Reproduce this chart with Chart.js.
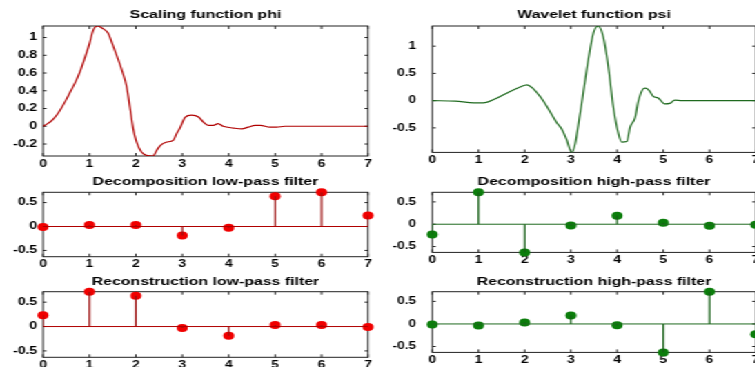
<!DOCTYPE html>
<html>
<head>
<meta charset="utf-8">
<script src="https://cdn.jsdelivr.net/npm/chart.js@4.4.1/dist/chart.umd.min.js"></script>
<style>
  html, body { margin: 0; padding: 0; overflow: hidden; background: #fff; }
  /* the reference figure is stretched sideways, so the whole figure is too */
  #fig { position: absolute; left: 0; top: 0; width: 580px; height: 367px; transform: scaleX(1.38); transform-origin: 0 0; }
  #fig canvas { position: absolute; }
</style>
</head>
<body>
<div id="fig">
  <canvas id="phi"></canvas>
  <canvas id="psi"></canvas>
  <canvas id="decLo"></canvas>
  <canvas id="decHi"></canvas>
  <canvas id="recLo"></canvas>
  <canvas id="recHi"></canvas>
</div>
<script>
// values
const xTicks = [0, 1, 2, 3, 4, 5, 6, 7];

const phiX = [0, 0.1, 0.2, 0.3, 0.4, 0.5, 0.6, 0.7, 0.8, 0.9, 1.0, 1.08, 1.17, 1.29, 1.4, 1.5, 1.6, 1.7, 1.8, 1.87, 1.94, 2.01, 2.12, 2.25, 2.37, 2.45, 2.52, 2.65, 2.81, 2.88, 2.95, 3.06, 3.2, 3.35, 3.45, 3.56, 3.67, 3.77, 3.88, 4.1, 4.28, 4.42, 4.57, 4.68, 4.89, 5.03, 5.21, 6, 7];
const phiY = [0, 0.03, 0.07, 0.13, 0.21, 0.3, 0.4, 0.5, 0.62, 0.77, 0.93, 1.08, 1.13, 1.1, 1.05, 0.92, 0.78, 0.63, 0.45, 0.22, -0.02, -0.17, -0.29, -0.33, -0.335, -0.27, -0.22, -0.18, -0.155, -0.08, -0.02, 0.1, 0.125, 0.105, 0.05, 0.01, 0.01, 0.03, 0, -0.02, -0.03, -0.01, 0.01, 0.01, -0.01, -0.01, 0, 0, 0];

const psiX = [0, 0.5, 0.9, 1.1, 1.38, 1.66, 1.9, 2.05, 2.16, 2.3, 2.4, 2.51, 2.69, 2.8, 2.9, 3.02, 3.09, 3.16, 3.23, 3.38, 3.49, 3.59, 3.7, 3.81, 3.92, 4.03, 4.1, 4.21, 4.28, 4.39, 4.46, 4.57, 4.62, 4.7, 4.78, 4.89, 5.03, 5.14, 5.25, 5.4, 7];
const psiY = [0, -0.01, -0.04, -0.04, 0.04, 0.16, 0.25, 0.29, 0.24, 0.11, 0, -0.15, -0.4, -0.52, -0.7, -0.95, -0.8, -0.45, -0.07, 0.77, 1.25, 1.37, 1.17, 0.62, -0.13, -0.61, -0.76, -0.75, -0.49, -0.31, -0.01, 0.22, 0.23, 0.18, 0.08, 0.05, -0.06, -0.05, 0.01, 0, 0];

const decLo = [-0.0106, 0.0329, 0.0308, -0.187, -0.028, 0.6309, 0.7148, 0.2304];
const decHi = [-0.2304, 0.7148, -0.6309, -0.028, 0.187, 0.0308, -0.0329, -0.0106];
const recLo = [0.2304, 0.7148, 0.6309, -0.028, -0.187, 0.0308, 0.0329, -0.0106];
const recHi = [-0.0106, -0.0329, 0.0308, 0.187, -0.028, -0.6309, 0.7148, -0.2304];

const S = 1.38;
const RED = "#b00000", RED_STEM = "#9c1010", RED_PT = "#f00000";
const GREEN = "#1f6a1f", GREEN_STEM = "#175f17", GREEN_PT = "#0b7d0b";

// page pixels, divided by S where horizontal
const cols = [
  { left: 0, width: 275, plotL: 43, plotR: 368, labelGap: 6 },
  { left: 280, width: 300, plotL: 432.3, plotR: 755.7, labelGap: 16 },
];
const rows = [
  { top: 0, height: 170, plotT: 26, plotB: 156, titleTop: 8 },
  { top: 170, height: 100, plotT: 192.3, plotB: 256.7, titleTop: 4.8 },
  { top: 270, height: 100, plotT: 291.7, plotB: 357.3, titleTop: 4.8 },
];

const tickFont = { family: "Liberation Sans", size: 10, weight: "bold", lineHeight: 1.2 };
const titleFont = { family: "Liberation Sans", size: 11.5, weight: "bold", lineHeight: 1.2 };

const matlabBox = {
  id: "matlabBox",
  beforeDatasetsDraw(chart) {
    const { ctx, chartArea: a, scales: { x, y } } = chart;
    ctx.save();
    ctx.strokeStyle = "#222";
    ctx.lineWidth = 1;
    ctx.strokeRect(a.left, a.top, a.width, a.height);
    ctx.beginPath();
    x.ticks.forEach((t) => {
      const px = x.getPixelForValue(t.value);
      ctx.moveTo(px, a.bottom); ctx.lineTo(px, a.bottom - 3);
      ctx.moveTo(px, a.top); ctx.lineTo(px, a.top + 3);
    });
    y.ticks.forEach((t) => {
      const py = y.getPixelForValue(t.value);
      ctx.moveTo(a.left, py); ctx.lineTo(a.left + 2.5, py);
      ctx.moveTo(a.right, py); ctx.lineTo(a.right - 2.5, py);
    });
    ctx.stroke();
    ctx.restore();
  },
};

function curve(xs, ys, color) {
  return [{
    data: xs.map((x, i) => ({ x, y: ys[i] })),
    showLine: true, borderColor: color, borderWidth: 1.2,
    pointRadius: 0, cubicInterpolationMode: "monotone",
  }];
}

function stems(vals, line, stem, fill) {
  const sets = [{
    data: [{ x: xTicks[0], y: 0 }, { x: xTicks[xTicks.length - 1], y: 0 }],
    showLine: true, borderColor: line, borderWidth: 1, pointRadius: 0,
  }];
  vals.forEach((v, i) => {
    sets.push({
      data: [{ x: xTicks[i], y: 0 }, { x: xTicks[i], y: v }],
      showLine: true, borderColor: stem, borderWidth: 1.2, pointRadius: 0,
    });
  });
  sets.push({
    data: vals.map((v, i) => ({ x: xTicks[i], y: v })),
    pointRadius: 4, pointHoverRadius: 4, pointBorderWidth: 0,
    pointBackgroundColor: fill, pointBorderColor: fill, clip: false,
  });
  return sets;
}

const label = (v) => String(Math.round(v * 100) / 100);

function makeChart(id, c, r, title, datasets, yMin, yMax, yStep) {
  const cv = document.getElementById(id);
  cv.width = c.width;
  cv.height = r.height;
  cv.style.left = c.left + "px";
  cv.style.top = r.top + "px";
  const plotL = c.plotL / S, plotR = c.plotR / S;
  const titleH = r.plotT - r.top;
  return new Chart(cv, {
    type: "scatter",
    data: { datasets },
    options: {
      responsive: false,
      animation: false,
      events: [],
      devicePixelRatio: 1,
      layout: { padding: { left: 0, top: 0, bottom: 0, right: c.left + c.width - plotR } },
      plugins: {
        legend: { display: false },
        tooltip: { enabled: false },
        title: {
          display: true, text: title, fullSize: false, color: "#000", font: titleFont,
          padding: { top: r.titleTop, bottom: titleH - r.titleTop - titleFont.size * titleFont.lineHeight },
        },
      },
      scales: {
        x: {
          type: "linear", min: xTicks[0], max: xTicks[xTicks.length - 1],
          grid: { display: false, drawTicks: false }, border: { display: false },
          ticks: { stepSize: 1, color: "#000", padding: 2, font: tickFont, maxRotation: 0, autoSkip: false, callback: label },
          afterFit: (s) => { s.height = r.top + r.height - r.plotB; },
        },
        y: {
          min: yMin, max: yMax,
          grid: { display: false, drawTicks: false }, border: { display: false },
          ticks: { stepSize: yStep, includeBounds: false, color: "#000", padding: c.labelGap / S, font: tickFont, callback: label },
          afterFit: (s) => { s.width = plotL - c.left; },
        },
      },
    },
    plugins: [matlabBox],
  });
}

const allFilters = decLo.concat(decHi, recLo, recHi);
const fMin = Math.min(...allFilters), fMax = Math.max(...allFilters);

makeChart("phi", cols[0], rows[0], "Scaling function phi", curve(phiX, phiY, RED), Math.min(...phiY), Math.max(...phiY), 0.2);
makeChart("psi", cols[1], rows[0], "Wavelet function psi", curve(psiX, psiY, GREEN), Math.min(...psiY), Math.max(...psiY), 0.5);
makeChart("decLo", cols[0], rows[1], "Decomposition low-pass filter", stems(decLo, RED, RED_STEM, RED_PT), fMin, fMax, 0.5);
makeChart("decHi", cols[1], rows[1], "Decomposition high-pass filter", stems(decHi, GREEN, GREEN_STEM, GREEN_PT), fMin, fMax, 0.5);
makeChart("recLo", cols[0], rows[2], "Reconstruction low-pass filter", stems(recLo, RED, RED_STEM, RED_PT), fMin, fMax, 0.5);
makeChart("recHi", cols[1], rows[2], "Reconstruction high-pass filter", stems(recHi, GREEN, GREEN_STEM, GREEN_PT), fMin, fMax, 0.5);
</script>
</body>
</html>
